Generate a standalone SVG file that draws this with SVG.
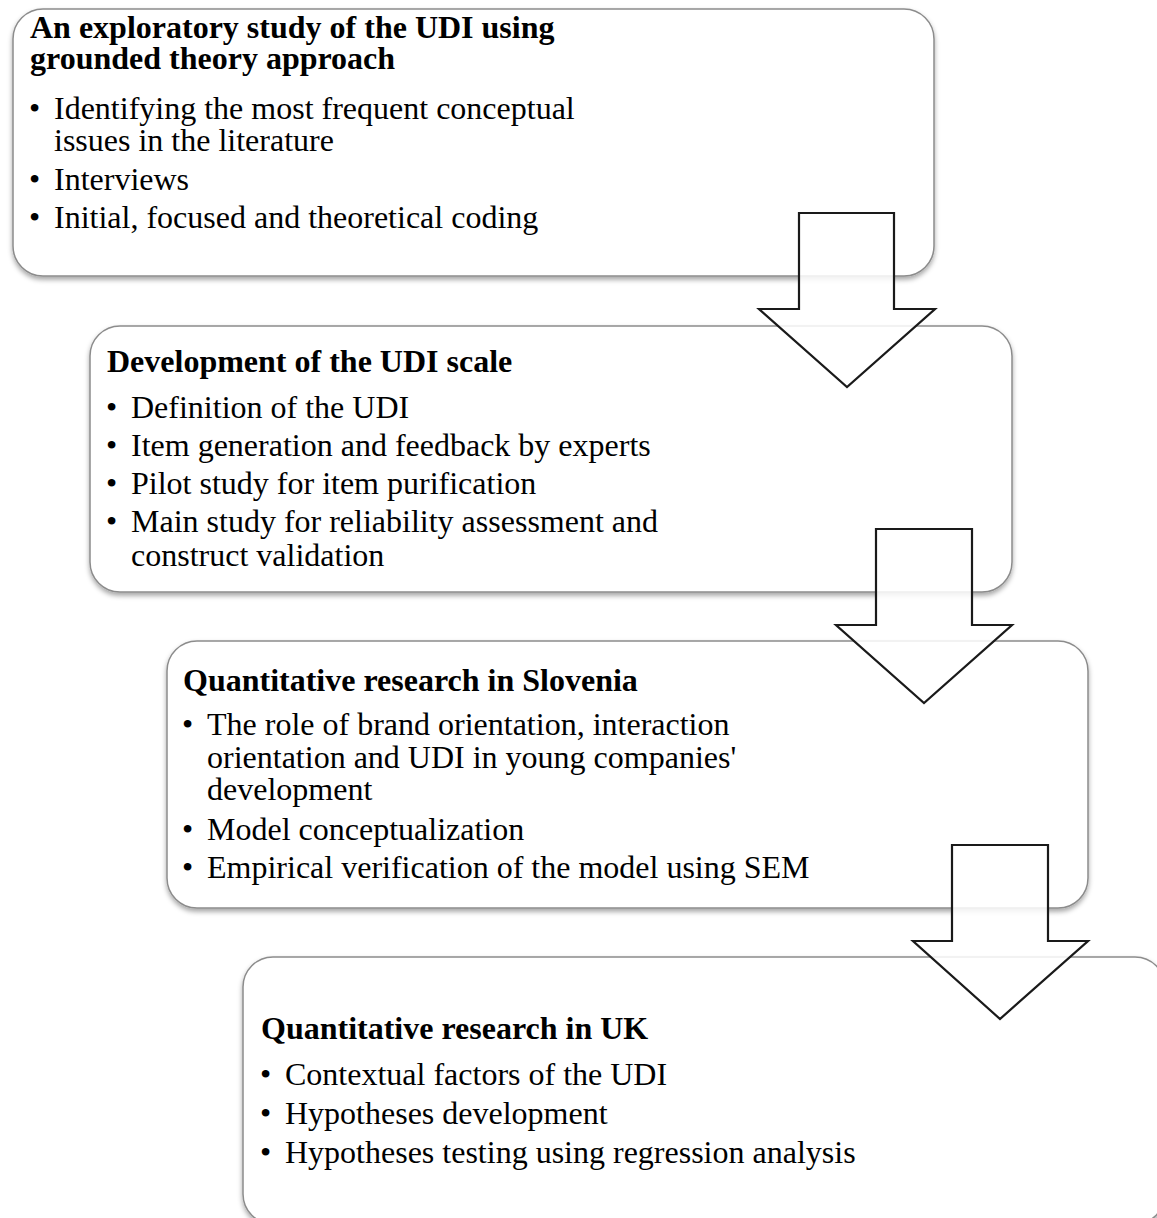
<svg xmlns="http://www.w3.org/2000/svg" width="1157" height="1218" viewBox="0 0 1157 1218">
  <defs>
    <filter id="shadow" x="-5%" y="-5%" width="110%" height="115%">
      <feDropShadow dx="0" dy="3" stdDeviation="2.5" flood-color="#000" flood-opacity="0.35"/>
    </filter>
  </defs>
  <style>
    .box { fill: #ffffff; stroke: #8c8c8c; stroke-width: 1.5; filter: url(#shadow); }
    .title { font-family: "Liberation Serif", "Times New Roman", serif; font-size: 32px; font-weight: bold; fill: #000; }
    .item { font-family: "Liberation Serif", "Times New Roman", serif; font-size: 32px; fill: #000; }
    .arrow { fill: #ffffff; fill-opacity: 0.85; stroke: #1a1a1a; stroke-width: 2.2; stroke-linejoin: miter; }
  </style>
  <rect width="1157" height="1218" fill="#ffffff"/>

  <g id="node-exploratory">
    <rect class="box" x="13" y="9" width="921" height="267" rx="30" ry="30"/>
    <text class="title" x="30" y="38">An exploratory study of the UDI using</text>
    <text class="title" x="30" y="69">grounded theory approach</text>
    <text class="item" x="29" y="119">•</text>
    <text class="item" x="54" y="119">Identifying the most frequent conceptual</text>
    <text class="item" x="54" y="151">issues in the literature</text>
    <text class="item" x="29" y="190">•</text>
    <text class="item" x="54" y="190">Interviews</text>
    <text class="item" x="29" y="228">•</text>
    <text class="item" x="54" y="228">Initial, focused and theoretical coding</text>
  </g>

  <g id="node-development">
    <rect class="box" x="90" y="326" width="922" height="266" rx="30" ry="30"/>
    <text class="title" x="107" y="372">Development of the UDI scale</text>
    <text class="item" x="106" y="418">•</text>
    <text class="item" x="131" y="418">Definition of the UDI</text>
    <text class="item" x="106" y="456">•</text>
    <text class="item" x="131" y="456">Item generation and feedback by experts</text>
    <text class="item" x="106" y="494">•</text>
    <text class="item" x="131" y="494">Pilot study for item purification</text>
    <text class="item" x="106" y="532">•</text>
    <text class="item" x="131" y="532">Main study for reliability assessment and</text>
    <text class="item" x="131" y="566">construct validation</text>
  </g>

  <g id="node-slovenia">
    <rect class="box" x="167" y="641" width="921" height="267" rx="30" ry="30"/>
    <text class="title" x="183" y="691">Quantitative research in Slovenia</text>
    <text class="item" x="182" y="735">•</text>
    <text class="item" x="207" y="735">The role of brand orientation, interaction</text>
    <text class="item" x="207" y="768">orientation and UDI in young companies'</text>
    <text class="item" x="207" y="800">development</text>
    <text class="item" x="182" y="840">•</text>
    <text class="item" x="207" y="840">Model conceptualization</text>
    <text class="item" x="182" y="878">•</text>
    <text class="item" x="207" y="878">Empirical verification of the model using SEM</text>
  </g>

  <g id="node-uk">
    <rect class="box" x="243" y="957" width="922" height="267" rx="30" ry="30"/>
    <text class="title" x="261" y="1039">Quantitative research in UK</text>
    <text class="item" x="260" y="1085">•</text>
    <text class="item" x="285" y="1085">Contextual factors of the UDI</text>
    <text class="item" x="260" y="1124">•</text>
    <text class="item" x="285" y="1124">Hypotheses development</text>
    <text class="item" x="260" y="1163">•</text>
    <text class="item" x="285" y="1163">Hypotheses testing using regression analysis</text>
  </g>

  <g id="connectors">
    <polygon class="arrow" points="799,213 894,213 894,309 935,309 847,387 759,309 799,309"/>
    <polygon class="arrow" points="876,529 972,529 972,625 1012,625 924,703 836,625 876,625"/>
    <polygon class="arrow" points="952,845 1048,845 1048,941 1088,941 1000,1019 913,941 952,941"/>
  </g>
</svg>
